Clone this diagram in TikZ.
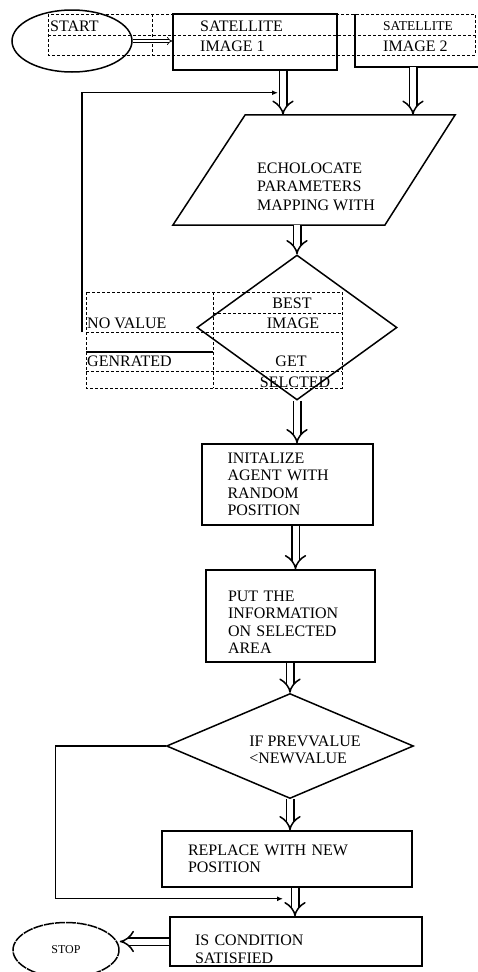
\documentclass[tikz,border=0pt]{standalone}
\usepackage{fontspec}
\setmainfont{Liberation Serif}
\usepackage{tikz}
\usetikzlibrary{calc,arrows.meta,positioning,shapes.geometric}
\tikzset{
  ar/.style={-{Latex[length=6pt,width=5pt]},line width=1.2pt},
  sar/.style={-{Implies},line width=0.7pt,double distance=2pt},
  har/.style={-{Implies[scale=1.5]},line width=1.5pt,double distance=6pt},
  box/.style={draw,line width=1.5pt,rectangle,align=left,inner sep=0pt},
  oval/.style={draw,line width=1.5pt,ellipse,inner sep=0pt},
  dia/.style={draw,line width=1.5pt,diamond,inner sep=0pt},
  cell/.style={dash pattern=on 3pt off 2pt,line width=1pt},
  txt/.style={inner sep=0pt,anchor=west}
}

\begin{document}
\begin{tikzpicture}[x=1pt,y=1pt,font=\fontsize{16}{17.5}\selectfont]
\useasboundingbox (0,0) rectangle (478,-972);
% table round start and satellite images
\draw[cell] (48,-14) rectangle (475,-55) (48,-35) -- (475,-35);
\foreach \x in {152,337} \draw[cell] (\x,-14) -- (\x,-55);
\node[oval,minimum width=120,minimum height=62] (start) at (72,-41) {};
\node[txt] (starttxt) at (50,-26) {START};
\node[box,minimum width=164,minimum height=56] (sat1) at (255,-42) {};
\node[txt] (sat1a) at (200,-26) {SATELLITE};
\node[txt] (sat1b) at (200,-46) {IMAGE 1};
\node[inner sep=0pt,minimum width=140,minimum height=53] (sat2) at (425,-40.5) {};
\draw[line width=1.5pt] (sat2.north west) -- (sat2.south west) -- (sat2.south east);
\node[txt,font=\fontsize{13.5}{15}\selectfont] (sat2a) at (383,-26) {SATELLITE};
\node[txt] (sat2b) at (383,-46) {IMAGE 2};
\draw[sar] (start.east) -- (start.east -| sat1.west);

% mapping
\node[inner sep=0pt,minimum width=282,minimum height=110] (map) at (314,-170) {};
\draw[line width=1.5pt] (map.south west) -- ([xshift=212pt]map.south west)
  -- (map.north east) -- ([xshift=-210pt]map.north east) -- cycle;
\node[txt,anchor=north west,align=left,font=\fontsize{16}{18.5}\selectfont] (maptxt) at (257,-162.7) {ECHOLOCATE\\PARAMETERS\\MAPPING WITH};
\coordinate (c1) at ([xshift=28pt]sat1.south);
\draw[har] (c1) -- (c1 |- map.north);
\draw[har] ([xshift=-12pt]sat2.south) -- ([xshift=-12pt]sat2.south |- map.north);

% best image
\node[dia,minimum width=200,minimum height=145] (best) at (297,-327.5) {};
\draw[har] (best.north |- map.south) -- (best.north);
\draw[cell] (86,-292) rectangle (342,-388) (213,-292) -- (213,-388)
  (213,-313) -- (342,-313) (86,-332) -- (342,-332) (86,-371) -- (342,-371);
\draw[line width=1.2pt] (86,-352) -- (213,-352);
\node[inner sep=0pt] (t1) at (292,-303) {BEST};
\node[inner sep=0pt] (t2) at (293,-323) {IMAGE};
\node[inner sep=0pt] (t3) at (291,-361) {GET};
\node[inner sep=0pt] (t4) at (295,-382) {SELCTED};
\node[txt] (t5) at (87,-323) {NO VALUE};
\node[txt] (t6) at (87,-361) {GENRATED};
\coordinate (fb) at (82,-332);
\draw[ar] (fb) |- ([xshift=-5pt,yshift=-22pt]c1);

% agent
\node[box,minimum width=171,minimum height=81,text width=120] (init) at (287.5,-484.5) {INITALIZE\\AGENT WITH\\RANDOM\\POSITION};
\draw[har] (best.south) -- (best.south |- init.north);
\node[box,minimum width=169,minimum height=92,text width=125,text height=22.6pt] (put) at (290.5,-616) {PUT THE\\INFORMATION\\ON SELECTED\\AREA};
\draw[har] ([xshift=8pt]init.south) -- ([xshift=8pt]init.south |- put.north);

% compare and replace
\node[dia,minimum width=247,minimum height=105,
  label={[xshift=15pt,yshift=-4pt,align=left]center:{IF PREVVALUE\\<NEWVALUE}}] (cmp) at (290,-746) {};
\draw[har] (cmp.north |- put.south) -- (cmp.north);
\node[box,minimum width=250,minimum height=56,text width=198] (rep) at (287,-859) {REPLACE WITH NEW\\POSITION};
\draw[har] (cmp.south) -- (cmp.south |- rep.north);
\node[box,minimum width=252,minimum height=49,text width=202,text height=26pt] (cond) at (296,-941.5) {IS CONDITION\\SATISFIED};
\draw[har] ([xshift=8pt]rep.south) -- ([xshift=8pt]rep.south |- cond.north);
\draw[ar] (cmp.west) -- ++(-110,0) |- ([xshift=-4pt,yshift=-11pt]rep.south);

% stop
\node[oval,dash pattern=on 10pt off 1pt,minimum width=106,minimum height=55,font=\fontsize{12}{14}\selectfont] (stop) at (66,-950) {STOP};
\draw[har] (cond.west) -- (cond.west -| stop.east);
\end{tikzpicture}
\end{document}
